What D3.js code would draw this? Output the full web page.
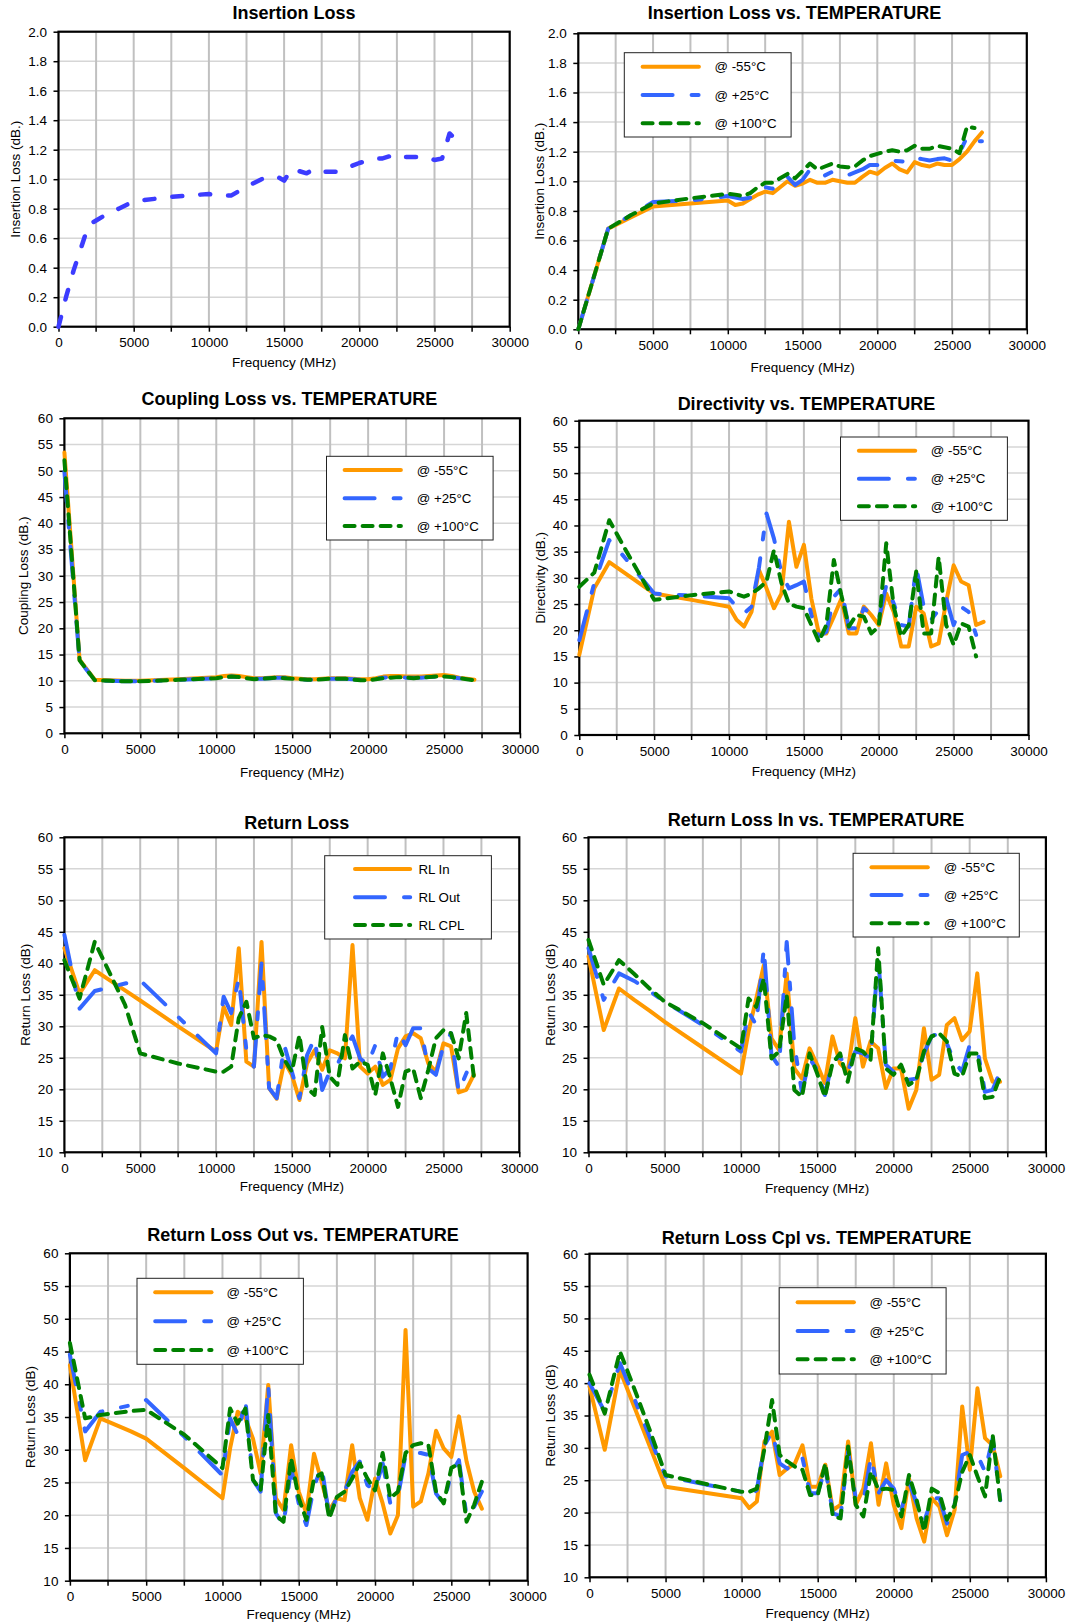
<!DOCTYPE html>
<html><head><meta charset="utf-8">
<script src="https://cdn.jsdelivr.net/npm/d3@7"></script>
<style>body{margin:0;background:#fff;}</style>
</head><body><svg id="c" width="1068" height="1623"></svg>
<script>
// ---------------- DATA ----------------
const xTicks = [0,5000,10000,15000,20000,25000,30000];
const ilTicks = [0,0.2,0.4,0.6,0.8,1.0,1.2,1.4,1.6,1.8,2.0];
const db60Ticks = [0,5,10,15,20,25,30,35,40,45,50,55,60];
const rlTicks = [10,15,20,25,30,35,40,45,50,55,60];
const tempLabels = ['@ -55°C','@ +25°C','@ +100°C'];
const rlLabels = ['RL In','RL Out','RL CPL'];

// Panel 1: Insertion Loss
const freqIL = [0,500,1000,2000,2500,3000,4000,5000,7500,10000,10500,11500,12500,13500,14500,15000,15500,16500,17000,17500,18500,20000,21000,21500,22500,23000,24500,25000,25500,26000,26300];
const insLoss = [0,0.2,0.38,0.69,0.72,0.75,0.8,0.85,0.88,0.9,0.89,0.89,0.95,1.0,1.02,0.99,1.07,1.04,1.07,1.05,1.05,1.11,1.14,1.14,1.17,1.15,1.15,1.13,1.14,1.31,1.28];

// Panel 2: Insertion Loss vs temperature
const freqILT = [0,2000,3500,5000,7500,10000,10500,11000,11500,12000,12500,13000,13500,14000,14500,15000,15500,16000,16500,17000,17500,18000,18500,19000,19500,20000,20500,21000,21500,22000,22500,23000,23500,24000,24500,25000,25500,26000,26500,27000];
const ilM55 = [0,0.68,0.755,0.83,0.85, 0.87,0.84,0.85,0.88,0.91,0.93,0.92,0.96,1.00,0.97, 0.985,1.01,0.99,0.99,1.01,1.00,0.99,0.99,1.03,1.065, 1.05,1.09,1.12,1.08,1.06,1.13,1.11,1.10,1.12,1.11, 1.11,1.15,1.20,1.27,1.33];
const ilP25 = [0,0.68,0.77,0.86,0.87, 0.90,0.89,0.88,0.89,0.93,0.96,0.95,0.99,1.03,0.975, 1.01,1.08,1.06,1.04,1.065,1.05,1.04,1.06,1.08,1.11, 1.11,1.12,1.14,1.135,1.13,1.16,1.15,1.14,1.15,1.155, 1.14,1.19,1.30,1.27,1.27];
const ilP100 = [0,0.68,0.77,0.85,0.885, 0.915,0.91,0.90,0.92,0.96,0.99,0.99,1.02,1.05,1.02, 1.07,1.12,1.08,1.10,1.12,1.10,1.095,1.10,1.14,1.17, 1.185,1.20,1.21,1.20,1.21,1.24,1.22,1.22,1.24,1.23, 1.22,1.19,1.37,1.36,null];

// Shared frequency grid for the dB panels
const freqDB = [0,1000,2000,3000,4000,5000,7500,10000,10500,11000,11500,12000,12500,13000,13500,14000,14500,15000,15500,16000,16500,17000,17500,18000,18500,19000,19500,20000,20500,21000,21500,22000,22500,23000,23500,24000,24500,25000,25500,26000,26500,27000];

// Panel 3: Coupling loss
const clM55 = [53.5,14,10.2,10.1,10.0,10.0,10.3, 10.7,10.9,11.0,10.9,10.7,10.5,10.5,10.6,10.7,10.7, 10.5,10.4,10.3,10.3,10.4,10.5,10.5,10.5,10.4,10.3, 10.3,10.5,10.8,10.9,10.9,10.8,10.8,10.8,10.9,11.0, 11.1,10.9,10.6,10.4,10.2];
const clP25 = [49.8,13.8,10.1,10.0,9.9,9.9,10.2, 10.5,10.7,10.8,10.7,10.5,10.4,10.4,10.5,10.6,10.6, 10.4,10.3,10.2,10.2,10.3,10.4,10.4,10.4,10.3,10.2, 10.2,10.4,10.6,10.7,10.7,10.6,10.6,10.6,10.7,10.8, 10.9,10.7,10.5,10.3,10.1];
const clP100 = [52,13.9,10.1,10.0,9.9,9.9,10.2, 10.5,10.7,10.8,10.7,10.5,10.3,10.4,10.5,10.6,10.5, 10.4,10.3,10.2,10.2,10.3,10.4,10.4,10.4,10.2,10.1, 10.1,10.3,10.5,10.6,10.7,10.6,10.5,10.6,10.7,10.8, 10.8,10.7,10.5,10.3,10.1];

// Panel 4: Directivity
const dirM55 = [15.3,28,33,31,29,27,25.8, 24.5,22,20.7,23.5,31.5,28,24.2,27,40.7,32.1, 36.3,26,19.4,19.4,22.6,26,19.4,19.4,24.5,22.9, 21,27,23.5,16.9,16.9,24.5,23.2,16.9,17.5,25.4, 32.4,29.3,28.6,21,21.6];
const dirP25 = [18.1,29,37.2,34,30.5,27,26.6, 26.1,24.5,23.2,24.5,32,42.3,37.5,30.9,28,28.6, 29.3,22.9,18.8,19.7,26.4,28,20.4,20.4,24.2,23, 22,28.6,25.1,21,20.7,32.1,24.5,22,23.9,26.1, 21,24.5,23.5,19.1,null];
const dirP100 = [28.3,31,41,35.8,30.8,25.8,26.7, 27.4,26.9,26.4,27,28,29.3,35.3,29,25.1,24.5, 24.2,21,17.8,21,33.4,26.7,20.7,22.9,22.6,19.4, 20.7,36.6,24.5,18.8,21,31.2,19.4,19.4,34,21, 17.2,21.3,20.7,15,null];

// Panel 5: Return loss
const rlIn = [42.4,35.2,38.9,37.3,35.7,34.1,30.0, 26,33.1,30.2,42.4,24.4,23.6,43.4,20.2,18.5,24.4, 22.3,18.3,24.1,26.2,23.1,26.2,25.7,24.9,42.9,23.6, 22.5,23.6,20.7,21.5,26.5,28.4,28.9,28.1,24.1,22.8, 27.3,26.8,19.5,19.9,22.3];
const rlOut = [44.5,32.8,35.6,36.2,36.8,37.3,31.5, 25.7,34.7,32.1,37.6,26.2,23.6,40,20.2,18.6,27, 22.8,18.6,25.4,28.1,19.9,22.8,23.9,26.5,28.4,24.9, 23.9,27,22,23.3,29.2,27,29.7,29.7,23.3,22.3, 27,28.9,19.6,22.5,25.2];
const rlCpl = [40.5,34.4,43.4,38.4,33.4,25.7,24.1, 22.8,22.8,23.6,31.3,33.9,28.1,28.6,28.4,27.8,24.7, 22.8,28.6,20.2,19.1,29.9,22,20.7,28.6,23.3,24.4, 23.9,19.1,25.7,21.7,17.2,22.8,23.3,18.6,23.1,28.1, 29.4,28.9,24.9,32.1,22];

// Panel 6: Return loss In vs temperature
const rliM55 = [41.1,29.4,36,34.2,32.5,30.7,26.6, 22.5,29.2,34.4,39.7,28.1,26.2,38.4,23.3,21.7,26.5, 23.9,21,28.4,24.1,22.8,31.3,23.6,27.6,26.5,20.2, 23.3,23.3,16.9,19.9,29.7,21.5,22.3,30.2,31.3,27.8, 29.2,38.4,24.9,21.2,21.2];
const rliP25 = [42.4,34.2,38.4,37.2,35.6,33.9,30.2, 26,32.3,30.2,42.4,25.4,23.6,43.4,27,19.5,24.9, 23.1,19.1,24.4,25.2,22.8,26,25.7,24.9,41.1,23.9, 22.8,22.8,21.5,21.7,25.7,28.4,28.9,27.3,24.4,22.8, 27,26.5,19.6,19.9,22.8];
const rliP100 = [43.7,36.6,40.5,38.3,36,33.9,30.5, 26.5,34.4,33.1,37.6,24.9,26,35,19.9,18.8,25.7, 22.5,18.8,24.1,25.7,21.2,26.5,26,24.7,42.4,23.3, 22.3,23.9,20.7,21.5,26,28.4,28.9,27.6,22.5,22, 25.7,25.7,18.6,18.8,22];

// Panel 7: Return loss Out vs temperature
const rloM55 = [42.9,28.4,34.8,33.8,32.8,31.7,27.2, 22.6,30.2,35.8,34.8,31.7,26.4,39.9,22.6,20.8,30.7, 23.6,20.3,29.4,25.1,20.8,22.6,22.3,30.7,22.6,19.3, 25.6,21.8,17.2,20,48.3,21.3,22.1,26.4,32.9,30.2, 28.9,35.1,28.2,23.6,21];
const rloP25 = [44.5,32.8,35.8,36.3,36.8,37.6,32, 26.1,34.8,32.3,37.6,25.4,23.6,39.9,20.3,18.5,27.2, 21.8,18.5,24.4,27.4,19.8,22.8,23.6,26.6,28.2,24.6, 23.8,27.9,21.8,22.8,29.2,29.5,29.5,29.2,23.3,21.8, 26.4,28.4,19.8,21.3,23.6];
const rloP100 = [46.3,34.8,35.3,35.6,35.9,36.1,32.3, 27.2,36.3,34,36.3,25.4,23.8,35.3,20,19,28.7, 22.6,19.3,25.6,26.4,19.5,22.8,23.6,25.6,27.9,25.6, 23.8,29.5,22.6,23.6,29.5,30.7,31,30.7,23.6,21.8, 27.2,27.9,19,21.6,25.1];

// Panel 8: Return loss Cpl vs temperature
const rlcM55 = [39.5,29.7,42,36,30,24,23.1, 22.2,20.7,21.7,31,32.5,25.8,26.8,27.6,30.4,24, 24,27.4,20.4,21.2,31,21.2,23.7,30.7,21.2,27.6, 21.2,17.6,25.3,19.1,15.5,22.2,20.9,16.5,20.4,36.4, 26.6,39.2,31.5,30.4,25.6];
const rlcP25 = [40,35.6,43.1,37.3,31.4,25.6,24.4, 23.2,22.5,23.5,30.4,32.5,27.6,26.8,28.1,28.4,23, 23,26.8,19.9,19.4,29.4,22.2,21.7,28.6,23,25, 23.7,20.4,24.8,21.4,18.6,22.2,22.2,18.3,21.2,28.9, 29.4,28.9,26.3,31.5,21.9];
const rlcP100 = [41.3,35.3,44.9,38.8,32.5,25.8,24.5, 23.2,23.2,23.7,29.9,37.4,28.9,27.9,27.1,26.6,22.7, 22.7,27.6,19.4,19.1,30.2,21.2,19.4,26.3,23.5,23.7, 23.5,19.4,25.8,22,17.1,23.7,23,18.9,21.2,26.3, 28.9,25.6,22.5,32,21.7];

// ---------------- DRAWING ----------------
const FONT = '"Liberation Sans", Arial, Helvetica, sans-serif';
const STY = {
  m55: {color:'#ff9900', dash:null},
  p25: {color:'#3366ff', dash:'30,19,7,19'},
  p100:{color:'#008000', dash:'10,8'},
  il:  {color:'#3c3cff', dash:'10,18'}
};
const svg = d3.select('#c');
svg.append('rect').attr('width',1068).attr('height',1623).attr('fill','#fff');

function ser(x, ys, keys){ return ys.map((y,i)=>({x:x, y:y, st:keys[i]})); }
const tempKeys = ['m55','p25','p100'];

const panels = [
  {L:58.5,R:509.7,T:31.7,B:326.7,title:'Insertion Loss',tcx:294,tcy:12.3,yd:[0,2],yt:ilTicks,yf:'.1f',ytitle:'Insertion Loss (dB.)',ytx:15.5,xdy:35,
   series:[{x:freqIL,y:insLoss,st:'il'}],legend:null},
  {L:578.3,R:1026.8,T:33.3,B:329.3,title:'Insertion Loss vs. TEMPERATURE',tcx:794.5,tcy:12.7,yd:[0,2],yt:ilTicks,yf:'.1f',ytitle:'Insertion Loss (dB.)',ytx:539,xdy:37.4,
   series:ser(freqILT,[ilM55,ilP25,ilP100],tempKeys),legend:{x0:624.3,x1:791.1,y0:52.7,y1:137,lx0:640.6,lx1:700.9,rows:[66.7,95,123.3],tx:714.5,labels:tempLabels}},
  {L:64.4,R:520,T:418.3,B:733.3,title:'Coupling Loss vs. TEMPERATURE',tcx:289.3,tcy:398.3,yd:[0,60],yt:db60Ticks,yf:'d',ytitle:'Coupling Loss (dB.)',ytx:23,xdy:39,
   series:ser(freqDB,[clM55,clP25,clP100],tempKeys),legend:{x0:326.5,x1:493.1,y0:456.3,y1:540,lx0:342.6,lx1:402.9,rows:[470,498.3,526],tx:416.7,labels:tempLabels}},
  {L:579.3,R:1028.5,T:420.7,B:735,title:'Directivity vs. TEMPERATURE',tcx:806.5,tcy:404,yd:[0,60],yt:db60Ticks,yf:'d',ytitle:'Directivity (dB.)',ytx:540,xdy:35.7,
   series:ser(freqDB,[dirM55,dirP25,dirP100],tempKeys),legend:{x0:840.5,x1:1007.4,y0:437,y1:520.3,lx0:856.9,lx1:917.2,rows:[450.7,478.7,506.3],tx:930.8,labels:tempLabels}},
  {L:64.4,R:519.3,T:837.3,B:1152.3,title:'Return Loss',tcx:296.8,tcy:822.3,yd:[10,60],yt:rlTicks,yf:'d',ytitle:'Return Loss (dB)',ytx:24.8,xdy:33.7,
   series:ser(freqDB,[rlIn,rlOut,rlCpl],tempKeys),legend:{x0:324.7,x1:491.4,y0:855.7,y1:939,lx0:353,lx1:412.2,rows:[869,897.3,925],tx:418.4,labels:rlLabels}},
  {L:588.5,R:1045.9,T:837.3,B:1152.3,title:'Return Loss In vs. TEMPERATURE',tcx:816,tcy:820,yd:[10,60],yt:rlTicks,yf:'d',ytitle:'Return Loss (dB)',ytx:550.3,xdy:36,
   series:ser(freqDB,[rliM55,rliP25,rliP100],tempKeys),legend:{x0:853.1,x1:1019.3,y0:853.3,y1:937,lx0:869.5,lx1:929.8,rows:[867.3,895,923.3],tx:943.7,labels:tempLabels}},
  {L:69.9,R:527.6,T:1253.3,B:1580.7,title:'Return Loss Out vs. TEMPERATURE',tcx:303,tcy:1235,yd:[10,60],yt:rlTicks,yf:'d',ytitle:'Return Loss (dB)',ytx:30.3,xdy:33.3,
   series:ser(freqDB,[rloM55,rloP25,rloP100],tempKeys),legend:{x0:137,x1:303.4,y0:1278.3,y1:1364.3,lx0:153.2,lx1:213.5,rows:[1292.3,1321.3,1350],tx:226.6,labels:tempLabels}},
  {L:589.5,R:1045.9,T:1253.7,B:1577.3,title:'Return Loss Cpl vs. TEMPERATURE',tcx:816.7,tcy:1237.7,yd:[10,60],yt:rlTicks,yf:'d',ytitle:'Return Loss (dB)',ytx:550.3,xdy:35.4,
   series:ser(freqDB,[rlcM55,rlcP25,rlcP100],tempKeys),legend:{x0:779.2,x1:946.1,y0:1287.7,y1:1374,lx0:795.6,lx1:855.9,rows:[1302.3,1331,1359.3],tx:869.5,labels:tempLabels}}
];

function styleLine(sel, key, w){
  const s = STY[key];
  sel.attr('fill','none').attr('stroke',s.color).attr('stroke-width',w)
     .attr('stroke-linecap','round').attr('stroke-linejoin','round');
  if (s.dash) sel.attr('stroke-dasharray',s.dash);
  return sel;
}

panels.forEach(p=>{
  const x = d3.scaleLinear().domain([0,30000]).range([p.L,p.R]);
  const y = d3.scaleLinear().domain(p.yd).range([p.B,p.T]);
  const g = svg.append('g');
  // horizontal grid
  g.append('g').selectAll('line').data(p.yt).join('line')
    .attr('x1',p.L).attr('x2',p.R).attr('y1',d=>y(d)).attr('y2',d=>y(d))
    .attr('stroke','#d6d6d6').attr('stroke-width',1.5);
  // vertical grid
  g.append('g').selectAll('line').data(d3.range(2500,30000,2500)).join('line')
    .attr('x1',d=>x(d)).attr('x2',d=>x(d)).attr('y1',p.T).attr('y2',p.B)
    .attr('stroke','#c0c0c0').attr('stroke-width',2);
  // axes
  const ax = g.append('g').attr('transform',`translate(0,${p.B})`)
    .call(d3.axisBottom(x).tickValues(xTicks).tickSize(5).tickPadding(6).tickFormat(d3.format('d')));
  const ay = g.append('g').attr('transform',`translate(${p.L},0)`)
    .call(d3.axisLeft(y).tickValues(p.yt).tickSize(5).tickPadding(6.5).tickFormat(d3.format(p.yf)));
  [ax,ay].forEach(a=>{
    a.select('.domain').remove();
    a.selectAll('.tick line').attr('stroke','#000').attr('stroke-width',1.5);
    a.selectAll('text').attr('font-family',FONT).attr('font-size',13.5).attr('fill','#000');
  });
  // minor x ticks
  g.append('g').selectAll('line').data(d3.range(2500,30000,5000)).join('line')
    .attr('x1',d=>x(d)).attr('x2',d=>x(d)).attr('y1',p.B).attr('y2',p.B+5)
    .attr('stroke','#000').attr('stroke-width',1.5);
  // border
  g.append('rect').attr('x',p.L).attr('y',p.T).attr('width',p.R-p.L).attr('height',p.B-p.T)
    .attr('fill','none').attr('stroke','#000').attr('stroke-width',2.2);
  // title
  g.append('text').attr('x',p.tcx).attr('y',p.tcy+6.4).attr('text-anchor','middle')
    .attr('font-family',FONT).attr('font-weight','bold').attr('font-size',18).text(p.title);
  // axis titles
  g.append('text').attr('x',(p.L+p.R)/2).attr('y',p.B+p.xdy+4.8).attr('text-anchor','middle')
    .attr('font-family',FONT).attr('font-size',13.5).text('Frequency (MHz)');
  const cy=(p.T+p.B)/2;
  g.append('text').attr('transform',`translate(${p.ytx+4.8},${cy}) rotate(-90)`).attr('text-anchor','middle')
    .attr('font-family',FONT).attr('font-size',13.5).text(p.ytitle);
  // series
  p.series.forEach(s=>{
    const pts = s.x.map((fx,i)=>[fx,s.y[i]]);
    const line = d3.line().defined(d=>d[1]!=null).x(d=>x(d[0])).y(d=>y(d[1]));
    styleLine(g.append('path').attr('d',line(pts)), s.st, s.st==='il'?4.5:4);
  });
  // legend
  if (p.legend){
    const lg = p.legend;
    g.append('rect').attr('x',lg.x0).attr('y',lg.y0).attr('width',lg.x1-lg.x0).attr('height',lg.y1-lg.y0)
      .attr('fill','#fff').attr('stroke','#222').attr('stroke-width',1);
    tempKeys.forEach((k,i)=>{
      styleLine(g.append('line').attr('x1',lg.lx0+2).attr('x2',lg.lx1-2).attr('y1',lg.rows[i]).attr('y2',lg.rows[i]), k, 4);
      g.append('text').attr('x',lg.tx).attr('y',lg.rows[i]+4.7).attr('font-family',FONT).attr('font-size',13.3)
        .text(lg.labels[i]);
    });
  }
});
</script></body></html>
